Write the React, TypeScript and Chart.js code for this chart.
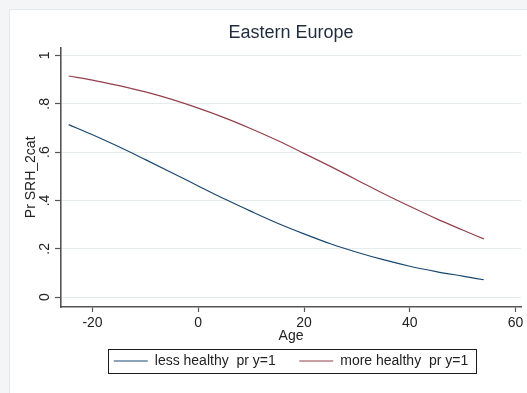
import React, { useEffect, useRef } from "react";
import { Chart, registerables } from "chart.js";

Chart.register(...registerables);

// Predicted probabilities by (centred) age
const ages = [-24.5, -20, -15, -10, -5, 0, 5, 10, 15, 20, 25, 30, 35, 40, 45, 50, 54];
const lessHealthy = [0.714, 0.672, 0.622, 0.569, 0.515, 0.46, 0.406, 0.355, 0.306, 0.262, 0.221, 0.186, 0.155, 0.128, 0.106, 0.087, 0.072];
const moreHealthy = [0.915, 0.898, 0.875, 0.849, 0.818, 0.782, 0.742, 0.697, 0.648, 0.595, 0.541, 0.485, 0.429, 0.376, 0.325, 0.278, 0.241];

const seriesNames = ["less healthy  pr y=1     ", "more healthy  pr y=1"];
const xTicks = [-20, 0, 20, 40, 60];
const yTicks = [0, 0.2, 0.4, 0.6, 0.8, 1];
const yTickLabels = ["0", ".2", ".4", ".6", ".8", "1"];

const FONT = "'Liberation Sans', Arial, sans-serif";
const AXIS = "#555555";
const TEXT = "#222222";

// Draws the thin frame round the legend entries
const legendFrame = {
  id: "legendFrame",
  afterDraw(chart: any) {
    const lg = chart.legend;
    if (!lg || !lg.legendHitBoxes || !lg.legendHitBoxes.length) return;
    const boxes = lg.legendHitBoxes;
    const l = Math.min(...boxes.map((b: any) => b.left)) - 6;
    const r = Math.max(...boxes.map((b: any) => b.left + b.width)) + 8;
    const t = Math.min(...boxes.map((b: any) => b.top)) - 5;
    const bt = Math.max(...boxes.map((b: any) => b.top + b.height)) + 5;
    const ctx = chart.ctx;
    ctx.save();
    ctx.strokeStyle = "#1c1c1c";
    ctx.lineWidth = 1;
    ctx.strokeRect(Math.round(l) + 0.5, Math.round(t) + 0.5, Math.round(r - l), Math.round(bt - t));
    ctx.restore();
  },
};

export default function App() {
  const ref = useRef<HTMLCanvasElement | null>(null);

  useEffect(() => {
    if (!ref.current) return;
    const toPoints = (ys: number[]) => ages.map((a, i) => ({ x: a, y: ys[i] }));
    const chart = new Chart(ref.current, {
      type: "line",
      data: {
        datasets: [
          {
            label: seriesNames[0],
            data: toPoints(lessHealthy),
            borderColor: "#1a476f",
            backgroundColor: "#1a476f",
            borderWidth: 1.2,
            pointRadius: 0,
            cubicInterpolationMode: "monotone",
          },
          {
            label: seriesNames[1],
            data: toPoints(moreHealthy),
            borderColor: "#93404a",
            backgroundColor: "#93404a",
            borderWidth: 1.2,
            pointRadius: 0,
            cubicInterpolationMode: "monotone",
          },
        ],
      },
      plugins: [legendFrame],
      options: {
        animation: false,
        responsive: false,
        maintainAspectRatio: false,
        layout: { padding: { left: 0, right: 6, top: 0, bottom: 15 } },
        plugins: {
          title: {
            display: true,
            text: "Eastern Europe",
            fullSize: false,
            color: "#1f2c3c",
            font: { family: FONT, size: 18, weight: "normal" },
            padding: { top: 22, bottom: 4 },
          },
          legend: {
            position: "bottom",
            fullSize: false,
            labels: {
              usePointStyle: true,
              pointStyle: "line",
              pointStyleWidth: 34,
              boxHeight: 13,
              padding: 4,
              color: TEXT,
              font: { family: FONT, size: 14 },
            },
          },
          tooltip: { enabled: false },
        },
        scales: {
          x: {
            type: "linear",
            min: -25.96,
            max: 61.04,
            afterBuildTicks: (s: any) => {
              s.ticks = xTicks.map((v) => ({ value: v }));
            },
            afterFit: (s: any) => {
              s.height = 43;
            },
            ticks: {
              color: TEXT,
              padding: 3,
              maxRotation: 0,
              font: { family: FONT, size: 14 },
            },
            grid: { drawOnChartArea: false, tickLength: 5, tickColor: AXIS, tickWidth: 1.2 },
            border: { display: true, color: AXIS, width: 1.6 },
            title: {
              display: true,
              text: "Age",
              color: TEXT,
              font: { family: FONT, size: 14 },
              padding: { top: 0, bottom: 5.6 },
            },
          },
          y: {
            type: "linear",
            min: -0.0407,
            max: 1.0325,
            afterBuildTicks: (s: any) => {
              s.ticks = yTicks.map((v) => ({ value: v }));
            },
            afterFit: (s: any) => {
              s.width = 61;
            },
            ticks: {
              color: TEXT,
              padding: 4,
              minRotation: 90,
              maxRotation: 90,
              crossAlign: "center",
              font: { family: FONT, size: 14 },
              callback: (_v: any, i: number) => yTickLabels[i],
            },
            grid: { color: "#e6ecee", lineWidth: 1, tickLength: 6, tickColor: AXIS, tickWidth: 1.2 },
            border: { display: true, color: AXIS, width: 1.6 },
            title: {
              display: true,
              text: "Pr SRH_2cat",
              color: TEXT,
              font: { family: FONT, size: 14 },
              padding: { top: 22.6, bottom: 0 },
            },
          },
        },
      },
    } as any);
    return () => chart.destroy();
  }, []);

  return (
    <div
      style={{
        position: "fixed",
        left: 0,
        top: 0,
        width: 527,
        height: 393,
        background: "#f3f5f6",
        overflow: "hidden",
      }}
    >
      <div
        style={{
          position: "absolute",
          left: 9,
          top: 9,
          right: 0,
          bottom: 0,
          background: "#ffffff",
          borderTop: "1px solid #e4e8ea",
          borderLeft: "1px solid #e4e8ea",
        }}
      />
      <canvas
        ref={ref}
        width={527}
        height={393}
        style={{ position: "absolute", left: 0, top: 0, width: 527, height: 393 }}
      />
    </div>
  );
}
